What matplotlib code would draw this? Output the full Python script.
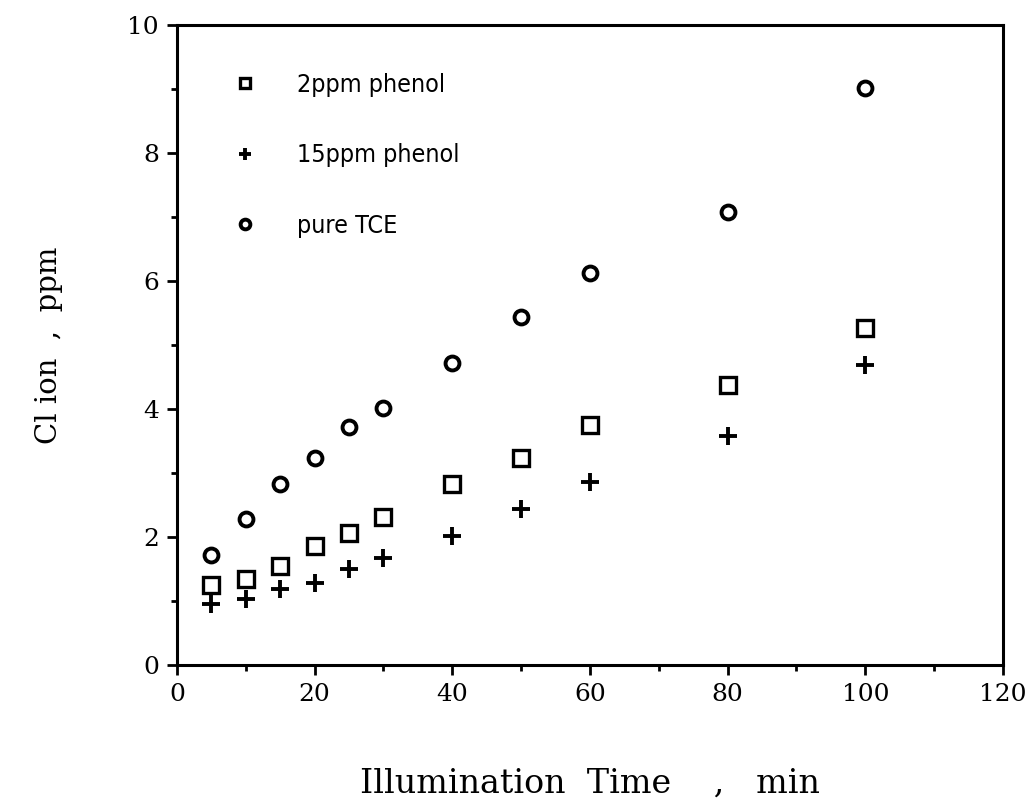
import numpy as np
import matplotlib
matplotlib.use("Agg")
import matplotlib.pyplot as plt
from matplotlib.ticker import MultipleLocator
from matplotlib.font_manager import FontProperties

# illumination time (min)
time_min = [5, 10, 15, 20, 25, 30, 40, 50, 60, 80, 100]

# Cl ion concentration (ppm)
cl_2ppm_phenol = [1.25, 1.34, 1.55, 1.86, 2.06, 2.32, 2.83, 3.23, 3.75, 4.38, 5.27]
cl_15ppm_phenol = [0.96, 1.03, 1.18, 1.28, 1.50, 1.67, 2.02, 2.43, 2.86, 3.58, 4.69]
cl_pure_tce = [1.72, 2.28, 2.83, 3.23, 3.72, 4.02, 4.72, 5.44, 6.12, 7.08, 9.02]

labels = ["2ppm phenol", "15ppm phenol", "pure TCE"]

serif = ["DejaVu Serif", "Liberation Serif"]

fig = plt.figure(figsize=(10.3, 8.02), dpi=100)
ax = fig.add_axes([0.1718, 0.1708, 0.8020, 0.7980])

ax.plot(time_min, cl_2ppm_phenol, ls="none", marker="s", ms=11, mfc="none",
        mec="black", mew=2.4, label=labels[0])
ax.plot(time_min, cl_15ppm_phenol, ls="none", marker="+", ms=13,
        mec="black", mew=2.8, label=labels[1])
ax.plot(time_min, cl_pure_tce, ls="none", marker="o", ms=10, mfc="none",
        mec="black", mew=2.8, label=labels[2])

ax.set_xlim(0, 120)
ax.set_ylim(0, 10)
ax.xaxis.set_major_locator(MultipleLocator(20))
ax.xaxis.set_minor_locator(MultipleLocator(10))
ax.yaxis.set_major_locator(MultipleLocator(2))
ax.yaxis.set_minor_locator(MultipleLocator(1))

for s in ax.spines.values():
    s.set_linewidth(2.2)

ax.tick_params(which="major", direction="out", length=7, width=2, labelsize=18, pad=6)
ax.tick_params(which="minor", direction="out", length=4, width=2)
for t in ax.get_xticklabels() + ax.get_yticklabels():
    t.set_family(serif)

ax.set_xlabel("Illumination  Time    ,   min", fontsize=24, family=serif, labelpad=44)
ax.set_ylabel("Cl ion  ,  ppm", fontsize=21, family=serif, labelpad=46)

# legend sits inside the axes, top left, no frame
leg_font = FontProperties(family="DejaVu Sans", stretch="condensed", size=18)
leg = ax.legend(loc="upper left", bbox_to_anchor=(0.04, 0.96), frameon=False,
                prop=leg_font, markerscale=0.7,
                labelspacing=1.85, handlelength=1.0, handletextpad=1.6)

fig.savefig("out.png", dpi=100)
